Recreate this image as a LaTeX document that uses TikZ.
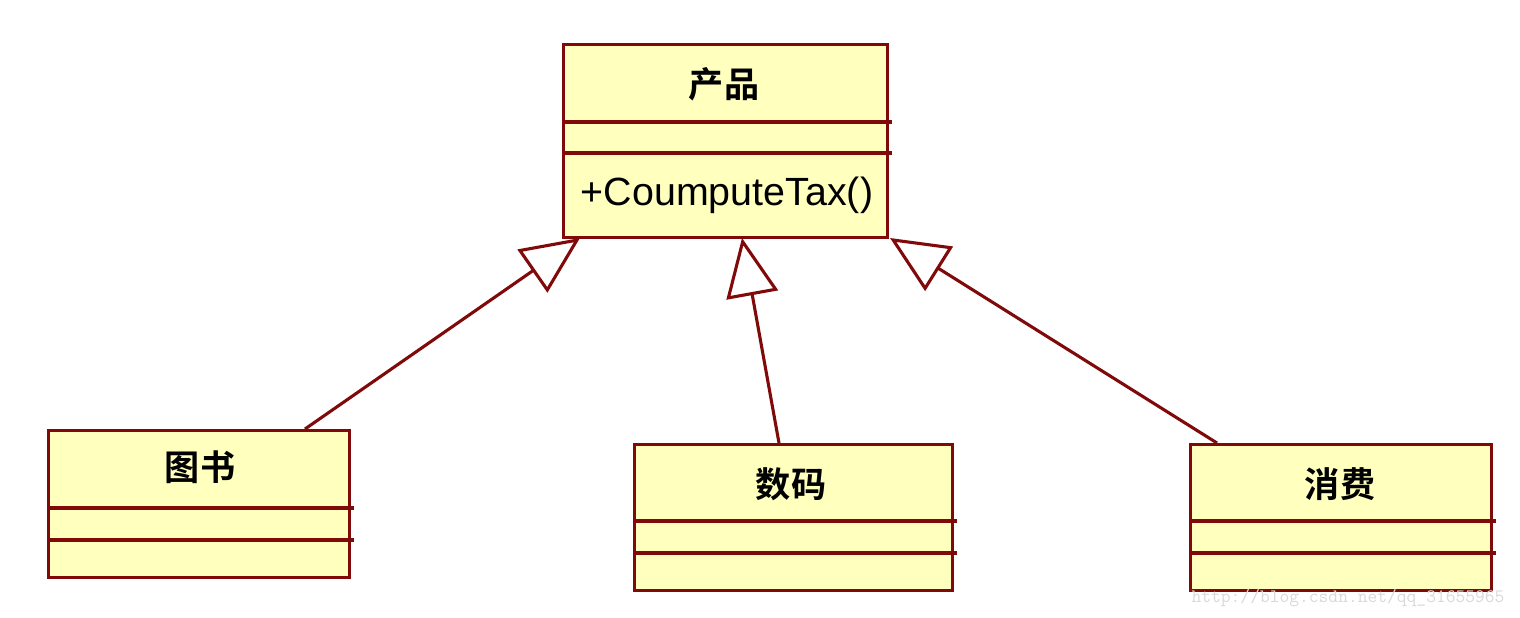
\documentclass[tikz,border=0pt]{standalone}
\usepackage{fontspec}
\setmainfont{Liberation Sans}
\newfontfamily\cjk{Noto Sans CJK SC Bold}
\usetikzlibrary{arrows.meta}
\definecolor{ln}{RGB}{128,10,10}
\definecolor{fl}{RGB}{255,255,190}
\tikzset{
 cls/.style={draw=ln,fill=fl,line width=2.2pt,anchor=north west,inner sep=0pt},
 dv/.style={draw=ln,line width=2.2pt},
 inh/.style={draw=ln,line width=2.2pt,-{Triangle[open,length=1.45cm,width=1.3cm,fill=white,line width=2.2pt]}},
 ttl/.style={font=\cjk\fontsize{25}{28}\selectfont},
}
\begin{document}
\begin{tikzpicture}[x=0.025cm,y=-0.025cm]
\useasboundingbox (0,0) rectangle (1520,618);
% product
\node[cls,minimum width=8.1cm,minimum height=4.825cm] (p) at (562,43) {};
\draw[dv] (562,122) -- (892,122);
\draw[dv] (562,153) -- (892,153);
\node[ttl] (pt) at (724,84) {产品};
\node[anchor=west,font=\fontsize{28}{30}\selectfont] (pm) at (576,195) {+CoumputeTax()};
% book
\node[cls,minimum width=7.525cm,minimum height=3.675cm] (b) at (47,429) {};
\draw[dv] (47,508) -- (354,508);
\draw[dv] (47,540) -- (354,540);
\node[ttl] (bt) at (200,467) {图书};
% digital
\node[cls,minimum width=7.95cm,minimum height=3.65cm] (d) at (633,443) {};
\draw[dv] (633,521) -- (957,521);
\draw[dv] (633,553) -- (957,553);
\node[ttl] (dt) at (791,484) {数码};
% consumer
\node[cls,minimum width=7.525cm,minimum height=3.65cm] (c) at (1189,443) {};
\draw[dv] (1189,521) -- (1496,521);
\draw[dv] (1189,553) -- (1496,553);
\node[ttl] (ct) at (1340,484) {消费};
% inheritance
\coordinate (b1) at (305,429); \coordinate (p1) at (580,238);
\coordinate (d1) at (779,443); \coordinate (p2) at (742,238);
\coordinate (c1) at (1217,443); \coordinate (p3) at (890,238);
\draw[inh] (b1) -- (p1);
\draw[inh] (d1) -- (p2);
\draw[inh] (c1) -- (p3);
\node[text=black!15,font=\ttfamily\fontsize{13.5}{14}\selectfont] (wm) at (1348,598) {http://blog.csdn.net/qq\_31655965};
\end{tikzpicture}
\end{document}
